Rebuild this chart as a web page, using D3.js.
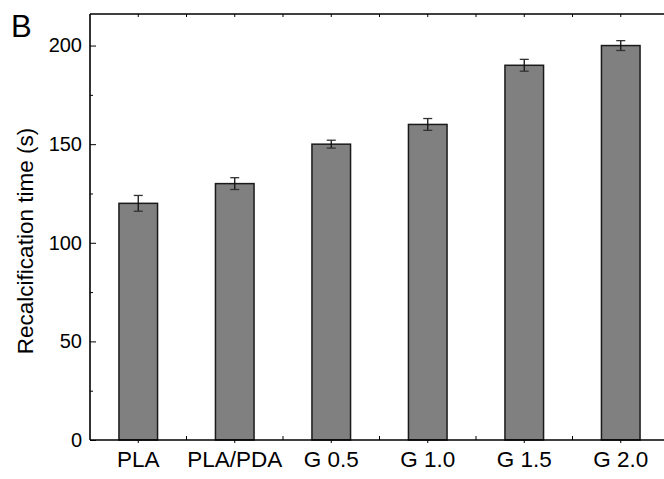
<!DOCTYPE html>
<meta charset="utf-8">
<title>Recalcification time</title>
<style>
  body { margin: 0; background: #fff; }
  text { font-family: "Liberation Sans", Arial, sans-serif; fill: #000; }
</style>
<svg width="664" height="479"></svg>
<script src="https://d3js.org/d3.v7.min.js"></script>
<script>

  // data
  var groups = ["PLA", "PLA/PDA", "G 0.5", "G 1.0", "G 1.5", "G 2.0"];
  var times = [120, 130, 150, 160, 190, 200];
  var errors = [4, 3, 2, 3, 3, 2.5];
  var yTicks = [0, 50, 100, 150, 200];
  var yMinor = [25, 75, 125, 175];

  var svg = d3.select("svg");

  // plot box (the right edge falls just outside the picture)
  var x0 = 90, x1 = 669, yTop = 14, yBot = 440;

  var x = d3.scaleBand()
      .domain(groups)
      .range([x0, x1])
      .paddingInner(0.6)
      .paddingOuter(0.3);

  var y = d3.scaleLinear()
      .domain([0, 216])
      .range([yBot, yTop]);

  // bars
  svg.selectAll("rect.bar")
      .data(groups)
      .enter().append("rect")
      .attr("class", "bar")
      .attr("x", function(d) { return x(d); })
      .attr("width", x.bandwidth())
      .attr("y", function(d, i) { return y(times[i]); })
      .attr("height", function(d, i) { return y(0) - y(times[i]); })
      .attr("fill", "#808080")
      .attr("stroke", "#1a1a1a")
      .attr("stroke-width", 1.5);

  // error bars
  var err = svg.selectAll("g.err")
      .data(groups)
      .enter().append("g")
      .attr("class", "err")
      .attr("stroke", "#111")
      .attr("stroke-width", 1.3);

  err.append("line")
      .attr("x1", function(d) { return x(d) + x.bandwidth() / 2; })
      .attr("x2", function(d) { return x(d) + x.bandwidth() / 2; })
      .attr("y1", function(d, i) { return y(times[i] + errors[i]); })
      .attr("y2", function(d, i) { return y(times[i] - errors[i]); });

  [1, -1].forEach(function(s) {
    err.append("line")
        .attr("x1", function(d) { return x(d) + x.bandwidth() / 2 - 4.5; })
        .attr("x2", function(d) { return x(d) + x.bandwidth() / 2 + 4.5; })
        .attr("y1", function(d, i) { return y(times[i] + s * errors[i]); })
        .attr("y2", function(d, i) { return y(times[i] + s * errors[i]); })
        .attr("stroke", "#333");
  });

  // left axis, ticks pointing inward
  var yAxis = svg.append("g")
      .attr("transform", "translate(" + x0 + ",0)")
      .call(d3.axisLeft(y).tickValues(yTicks).tickSize(-6).tickPadding(8));
  yAxis.select(".domain").attr("stroke-width", 1.6).attr("d", "M0," + yBot + "V" + yTop);
  yAxis.selectAll(".tick text")
      .style("font-size", "20px")
      .style("font-family", "Liberation Sans, Arial, sans-serif");

  svg.append("g")
      .attr("transform", "translate(" + x0 + ",0)")
      .call(d3.axisLeft(y).tickValues(yMinor).tickSize(-3).tickFormat(""))
      .select(".domain").remove();

  // bottom axis
  var bounds = groups.slice(1).map(function(d) { return x(d) - x.step() * x.paddingInner() / 2; });

  var xAxis = svg.append("g")
      .attr("transform", "translate(0," + yBot + ")")
      .call(d3.axisBottom(x).tickSize(3).tickPadding(8));
  xAxis.select(".domain").attr("stroke-width", 1.6).attr("d", "M" + x0 + ",0H664");
  xAxis.selectAll(".tick text")
      .style("font-size", "22.5px")
      .style("font-family", "Liberation Sans, Arial, sans-serif");

  svg.append("g").selectAll("line")
      .data(bounds)
      .enter().append("line")
      .attr("x1", function(d) { return d; })
      .attr("x2", function(d) { return d; })
      .attr("y1", yBot)
      .attr("y2", yBot - 4)
      .attr("stroke", "#000");

  // top frame
  svg.append("line")
      .attr("x1", x0).attr("x2", 664)
      .attr("y1", yTop).attr("y2", yTop)
      .attr("stroke", "#000").attr("stroke-width", 1.6);

  svg.append("g").selectAll("line")
      .data(bounds.concat(groups.map(function(d) { return x(d) + x.bandwidth() / 2; })))
      .enter().append("line")
      .attr("x1", function(d) { return d; })
      .attr("x2", function(d) { return d; })
      .attr("y1", yTop)
      .attr("y2", yTop + 3)
      .attr("stroke", "#000");

  // y label
  svg.append("text")
      .attr("transform", "translate(33,241) rotate(-90)")
      .attr("text-anchor", "middle")
      .style("font-size", "22.5px")
      .text("Recalcification time (s)");

  // panel letter
  svg.append("text")
      .attr("x", 11)
      .attr("y", 37)
      .style("font-size", "31px")
      .text("B");

</script>
